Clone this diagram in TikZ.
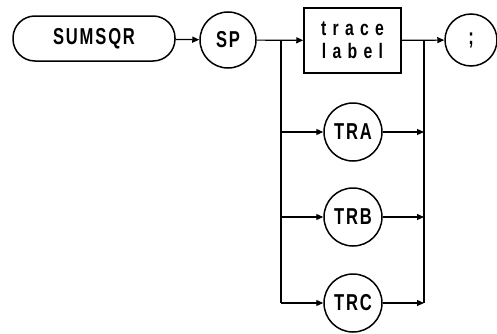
\documentclass[tikz,border=0pt]{standalone}
\usepackage{fontspec}
\newfontfamily\diag[LetterSpace=8,FakeStretch=0.72]{Liberation Sans}
\newfontfamily\diagwide[LetterSpace=30,FakeStretch=0.75]{Liberation Sans}
\usetikzlibrary{arrows.meta}
\begin{document}
\begin{tikzpicture}[x=1pt,y=1pt,
  every node/.style={line width=1.5pt, draw, inner sep=0pt},
  lbl/.style={font=\diag\bfseries\fontsize{23}{26}\selectfont},
  term/.style={circle, minimum size=56pt, lbl},
  roundbox/.style={rounded corners=22pt, minimum width=162pt, minimum height=45pt, lbl},
  sqbox/.style={rectangle, minimum width=97pt, minimum height=65pt, align=center, font=\diagwide\bfseries\fontsize{21}{23}\selectfont},
  conn/.style={line width=1.2pt, -{Triangle[length=7pt,width=6pt]}},
  wire/.style={line width=1.3pt}]
\useasboundingbox (0,0) rectangle (497,333);
\node[roundbox] (sumsqr) at (94,294.5) {SUMSQR};
\node[term] (sp) at (228,293) {SP};
\node[sqbox] (tl) at (352.5,292.5) {trace\\label};
\node[term, minimum size=52pt] (semi) at (471,293) {;};
\node[term, minimum size=58pt] (tra) at (353,201) {TRA};
\node[term, minimum size=58pt] (trb) at (353,116) {TRB};
\node[term, minimum size=58pt] (trc) at (353,30) {TRC};
\coordinate (bl) at (281,293);
\coordinate (br) at (424,293);
\draw[conn] (sumsqr) -- (sp);
\draw[conn] (sp) -- (tl);
\draw[conn] (tl) -- (semi);
\draw[wire] (bl) -- (bl |- trc);
\draw[wire] (br) -- (br |- trc);
\draw[conn] (bl |- tra) -- (tra);
\draw[conn] (bl |- trb) -- (trb);
\draw[conn] (bl |- trc) -- (trc);
\draw[conn] (tra) -- (br |- tra);
\draw[conn] (trb) -- (br |- trb);
\draw[conn] (trc) -- (br |- trc);
\end{tikzpicture}
\end{document}
